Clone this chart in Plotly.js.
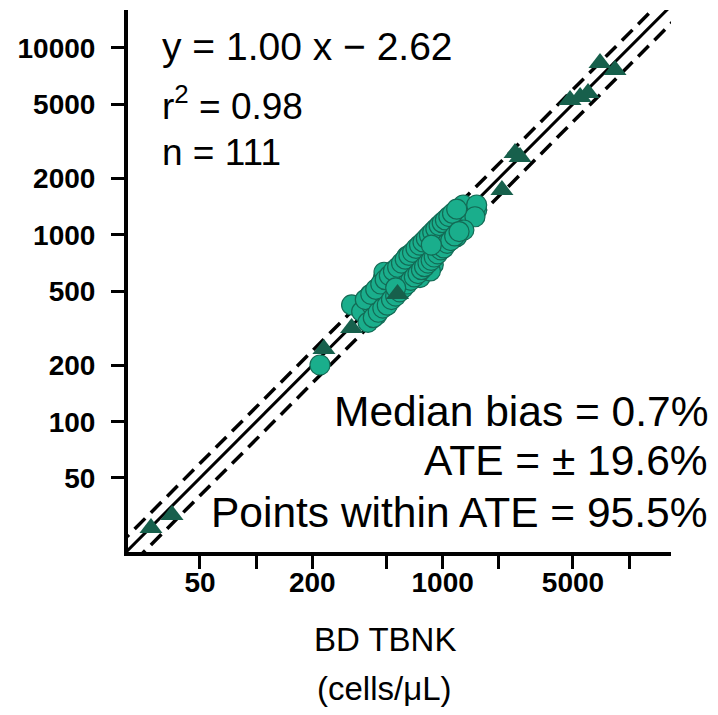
<!DOCTYPE html>
<html>
<head>
<meta charset="utf-8">
<script src="https://cdn.plot.ly/plotly-3.0.1.min.js"></script>
<style>html,body{margin:0;padding:0;background:#fff;}#chart{width:718px;height:715px;}</style>
</head>
<body>
<div id="chart"></div>
<script>
// Circle series (BD TBNK x, comparator y), cells/µL
const circleX = [220,325,392,368,443,417,461,408,461,481,533,567,509,603,668,641,693,555,485,591,628,968,1189,1095,1265,1432,1523,855,891,772,726,668,696,787,891,641,756,860,1291,1523,1239,1491,1239,1008,1189,1300,
  385,398,412,425,438,452,466,478,492,505,518,532,545,560,574,588,602,616,630,645,660,675,690,705,720,738,752,770,785,800,818,835,850,868,885,902,920,940,958,978,995,1015,1035,1058,1080,1105,1130,1160,1190,1225,560,870];
const circleY = [201,421,430,388,372,421,421,476,496,585,561,538,476,689,689,763,798,634,630,596,561,976,1018,1151,1248,1275,1356,863,763,828,763,703,634,661,690,573,590,640,1442,1442,1224,1248,1059,1018,976,1060,
  450,340,480,360,510,385,545,405,575,420,605,450,640,470,670,495,705,520,740,545,775,570,805,595,845,620,880,650,915,675,955,705,995,730,1035,760,1075,790,1120,830,1160,850,1200,900,1250,930,1300,985,1370,1040,520,880];
// Triangle series
const triX = [27.3,35.4,231,325,573,2080,2444,2600,6980,8400,4820,5460,6020];
const triY = [27.0,31.7,245,317,482,1734,2735,2606,8280,7600,5250,5450,5730];
// Ticks
const xTickVals = [50,200,1000,5000];
const xMinorVals = [100,500,2000,10000];
const yTickVals = [50,100,200,500,1000,2000,5000,10000];
// Identity line and ATE band
const lineX = [10,30000];
const ate = 0.196;
const statsLeft = ['y = 1.00 x \u2212 2.62','r<sup>2</sup> = 0.98','n = 111'];
const statsRight = ['Median bias = 0.7%','ATE = \u00b1 19.6%','Points within ATE = 95.5%'];
const xTitle = ['BD TBNK','(cells/\u03bcL)'];

const traces = [
  {x: lineX, y: lineX.map(v=>v*(1+ate)), mode:'lines', line:{color:'#000', width:3.5, dash:'15px,8px'}, hoverinfo:'skip'},
  {x: lineX, y: lineX.map(v=>v*(1-ate)), mode:'lines', line:{color:'#000', width:3.5, dash:'15px,8px'}, hoverinfo:'skip'},
  {x: lineX, y: lineX, mode:'lines', line:{color:'#000', width:3}, hoverinfo:'skip'},
  {x: circleX, y: circleY, mode:'markers', type:'scatter',
   marker:{symbol:'circle', size:20, color:'#1aae8c', line:{color:'#136b55', width:1.2}}},
  {x: triX, y: triY, mode:'markers', type:'scatter',
   marker:{symbol:'triangle-up', size:20, color:'#17604c', line:{width:0}}}
];

const fontFam = 'Liberation Sans, Arial, sans-serif';
const annotations = [];
const leftY = [0.932, 0.827, 0.738];
statsLeft.forEach((t,i)=>annotations.push({xref:'paper', yref:'paper', x:0.059, y:leftY[i], xanchor:'left', yanchor:'middle', text:t, showarrow:false, font:{family:fontFam, size:i===0?39:37, color:'#000'}}));
const rightY = [0.260, 0.168, 0.0738];
statsRight.forEach((t,i)=>annotations.push({xref:'paper', yref:'paper', x:1.072, y:rightY[i], xanchor:'right', yanchor:'middle', text:t, showarrow:false, font:{family:fontFam, size:42.5, color:'#000'}}));
const titleY = [-0.162, -0.251];
xTitle.forEach((t,i)=>annotations.push({xref:'paper', yref:'paper', x:0.473, y:titleY[i], xanchor:'center', yanchor:'middle', text:t, showarrow:false, font:{family:fontFam, size:33, color:'#000'}}));

const axisCommon = {
  type:'log', showline:true, linewidth:4, linecolor:'#000', mirror:false,
  ticks:'outside', ticklen:13, tickwidth:3, tickcolor:'#000',
  tickmode:'array', showgrid:false, zeroline:false,
  tickfont:{family:fontFam, size:28, color:'#000', weight:'bold'}
};

const layout = {
  width:718, height:715,
  margin:{l:128, r:47, t:10, b:163},
  paper_bgcolor:'#fff', plot_bgcolor:'#fff',
  showlegend:false,
  font:{family:fontFam, color:'#000'},
  xaxis: Object.assign({}, axisCommon, {range:[1.313,4.2245], tickvals:xTickVals, ticktext:xTickVals.map(String),
    ticklabelstandoff:-11,
    minor:{tickmode:'array', tickvals:xMinorVals, ticks:'outside', ticklen:13, tickwidth:3, tickcolor:'#000', showgrid:false}}),
  yaxis: Object.assign({}, axisCommon, {range:[1.303,4.202], tickvals:yTickVals, ticktext:yTickVals.map(String), ticklabelstandoff:10}),
  annotations: annotations
};

Plotly.newPlot('chart', traces, layout, {displayModeBar:false, staticPlot:true});
</script>
</body>
</html>
